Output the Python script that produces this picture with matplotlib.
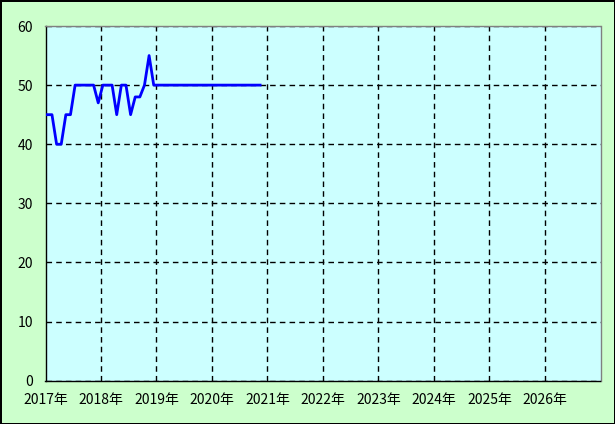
import numpy as np
import matplotlib.pyplot as plt

plt.rcParams['font.family'] = ['Noto Sans CJK JP', 'DejaVu Sans']

# === dati mensili (gen 2017 - nov 2020) ===
start_year = 2017
values = [45, 45, 40, 40, 45, 45, 50, 50, 50, 50, 50, 47,
          50, 50, 50, 45, 50, 50, 45, 48, 48, 50, 55, 50,
          50, 50, 50, 50, 50, 50, 50, 50, 50, 50, 50, 50,
          50, 50, 50, 50, 50, 50, 50, 50, 50, 50, 50]
years = list(range(2017, 2027))
year_labels = [f'{y}年' for y in years]

# punto a metà circa del mese
x = start_year + (np.arange(len(values)) + 0.4) / 12.0

fig = plt.figure(figsize=(6.15, 4.24), dpi=100)
fig.patch.set_facecolor('#CCFFCC')
fig.patch.set_edgecolor('black')
fig.patch.set_linewidth(2)

ax = fig.add_axes([45.5 / 615, (424 - 380.7) / 424, 555 / 615, 354.7 / 424])
ax.set_facecolor('#CCFFFF')
ax.plot(x, values, color='#0000FF', linewidth=2, zorder=3)

ax.set_xlim(2017, 2027)
ax.set_ylim(0, 60)
ax.set_xticks(years)
ax.set_xticklabels(year_labels)
ax.set_yticks(range(0, 61, 10))
ax.tick_params(length=0, labelsize=10, colors='black')
ax.tick_params(axis='y', pad=9)
ax.tick_params(axis='x', pad=9)

ax.grid(True, color='black', linestyle=(0, (4, 3)), linewidth=1)

ax.spines['left'].set_color('black')
ax.spines['bottom'].set_color('black')
ax.spines['top'].set_color('gray')
ax.spines['right'].set_color('gray')
for s in ax.spines.values():
    s.set_linewidth(1.0)

fig.savefig('out.png', dpi=100)
